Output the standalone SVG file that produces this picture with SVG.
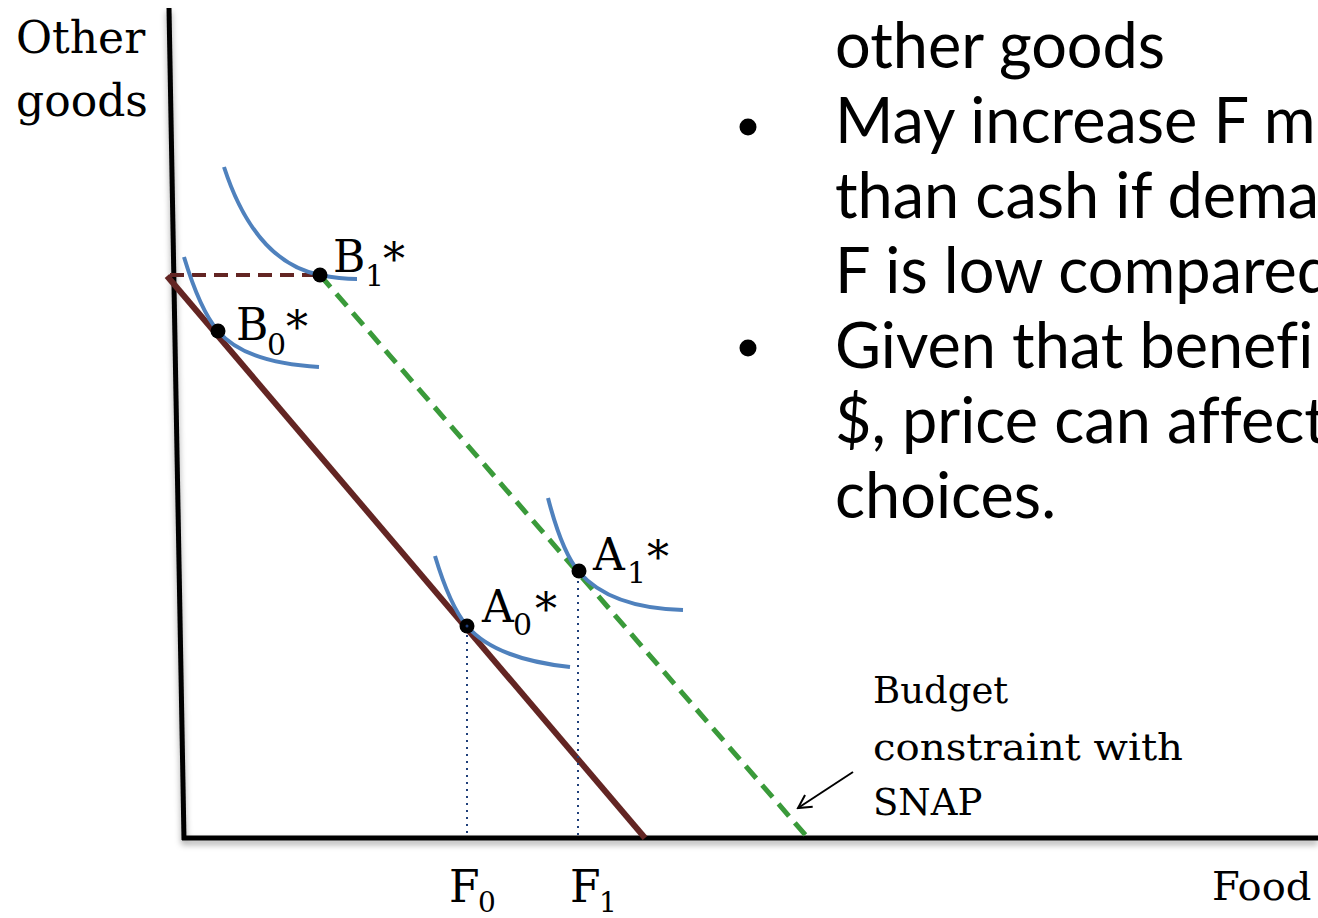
<svg xmlns="http://www.w3.org/2000/svg" width="1318" height="918" viewBox="0 0 1318 918">
<style>
.serif{font-family:"DejaVu Serif","Liberation Serif",serif;fill:#000}
.sans{font-family:Lato,"Open Sans","Liberation Sans",sans-serif;font-size:63px;fill:#000;font-variant-ligatures:none}
.ic{fill:none;stroke:#4F81BD;stroke-width:4}
.dot{fill:#000}
.drop{stroke:#1F3F7A;stroke-width:2;stroke-dasharray:2,5;fill:none}
</style>
<defs>
<filter id="sh" x="-5%" y="-5%" width="110%" height="120%">
<feDropShadow dx="0" dy="4" stdDeviation="3" flood-color="#000" flood-opacity="0.35"/>
</filter>
<marker id="arr" markerWidth="16" markerHeight="16" refX="14" refY="8" orient="auto" markerUnits="userSpaceOnUse">
<path d="M1,1 L14,8 L1,15" fill="none" stroke="#000" stroke-width="2"/>
</marker>
</defs>
<rect width="1318" height="918" fill="#fff"/>
<g id="axes" filter="url(#sh)">
<line x1="169" y1="8" x2="184" y2="840" stroke="#000" stroke-width="5"/>
<line x1="182" y1="838" x2="1318" y2="838" stroke="#000" stroke-width="5"/>
</g>
<g id="connectors">
<line id="budget0" x1="167" y1="276" x2="645" y2="838" stroke="#632523" stroke-width="6"/>
<line id="kink" x1="170" y1="275" x2="320" y2="275" stroke="#632523" stroke-width="4" stroke-dasharray="14,8"/>
<line id="budget1" x1="320" y1="275" x2="808" y2="838" stroke="#3A9A3A" stroke-width="5" stroke-dasharray="16,9"/>
<line x1="467" y1="628" x2="467" y2="836" class="drop"/>
<line x1="578" y1="574" x2="578" y2="836" class="drop"/>
<line x1="853" y1="772" x2="798" y2="808" stroke="#000" stroke-width="2" marker-end="url(#arr)"/>
</g>
<g id="ic-B1"><path class="ic" d="M224,167 Q255,262 320,275 Q340,279 357,279"/></g>
<g id="ic-B0"><path class="ic" d="M184,257 Q200,310 218,331 Q245,363 319,367"/></g>
<g id="ic-A0"><path class="ic" d="M435,556 Q450,606 467,626 Q495,659 570,667"/></g>
<g id="ic-A1"><path class="ic" d="M548,498 Q562,552 579,572 Q610,608 683,610"/></g>
<g id="B1"><circle class="dot" cx="320" cy="275" r="7.5"/>
<text class="serif"><tspan x="333" y="272" font-size="44">B</tspan><tspan x="365" y="286" font-size="30">1</tspan><tspan x="383" y="275" font-size="44">*</tspan></text></g>
<g id="B0"><circle class="dot" cx="218" cy="331" r="7.5"/>
<text class="serif"><tspan x="236" y="340" font-size="44">B</tspan><tspan x="267" y="355" font-size="30">0</tspan><tspan x="286" y="343" font-size="44">*</tspan></text></g>
<g id="A1"><circle class="dot" cx="579" cy="571" r="7.5"/>
<text class="serif"><tspan x="593" y="570" font-size="44">A</tspan><tspan x="627" y="583" font-size="30">1</tspan><tspan x="647" y="573" font-size="44">*</tspan></text></g>
<g id="A0"><circle class="dot" cx="467" cy="626" r="7.5"/>
<circle cx="467" cy="626" r="1.5" fill="#1F3F7A"/>
<text class="serif"><tspan x="482" y="622" font-size="44">A</tspan><tspan x="513" y="635" font-size="30">0</tspan><tspan x="535" y="625" font-size="44">*</tspan></text></g>
<g id="labels">
<text class="serif" x="16" y="53" font-size="44">Other</text>
<text class="serif" x="16" y="116" font-size="44">goods</text>
<text class="serif" x="1212" y="900" font-size="40">Food</text>
<text class="serif"><tspan x="449" y="902" font-size="44">F</tspan><tspan x="478" y="912" font-size="28">0</tspan></text>
<text class="serif"><tspan x="570" y="902" font-size="44">F</tspan><tspan x="599" y="912" font-size="28">1</tspan></text>
<text class="serif" font-size="37"><tspan x="873" y="703">Budget</tspan><tspan x="873" y="760" textLength="310" lengthAdjust="spacingAndGlyphs">constraint with</tspan><tspan x="873" y="815">SNAP</tspan></text>
</g>
<g id="bullets">
<circle cx="748" cy="127" r="8.5"/>
<circle cx="748" cy="348" r="8.5"/>
<text class="sans"><tspan x="835" y="68">other goods</tspan><tspan x="835" y="143">May increase F m</tspan><tspan x="835" y="218">than cash if dema</tspan><tspan x="835" y="293">F is low compared</tspan><tspan x="835" y="368">Given that benefi</tspan><tspan x="835" y="443">$, price can affect</tspan><tspan x="835" y="518">choices.</tspan></text>
</g>
</svg>
